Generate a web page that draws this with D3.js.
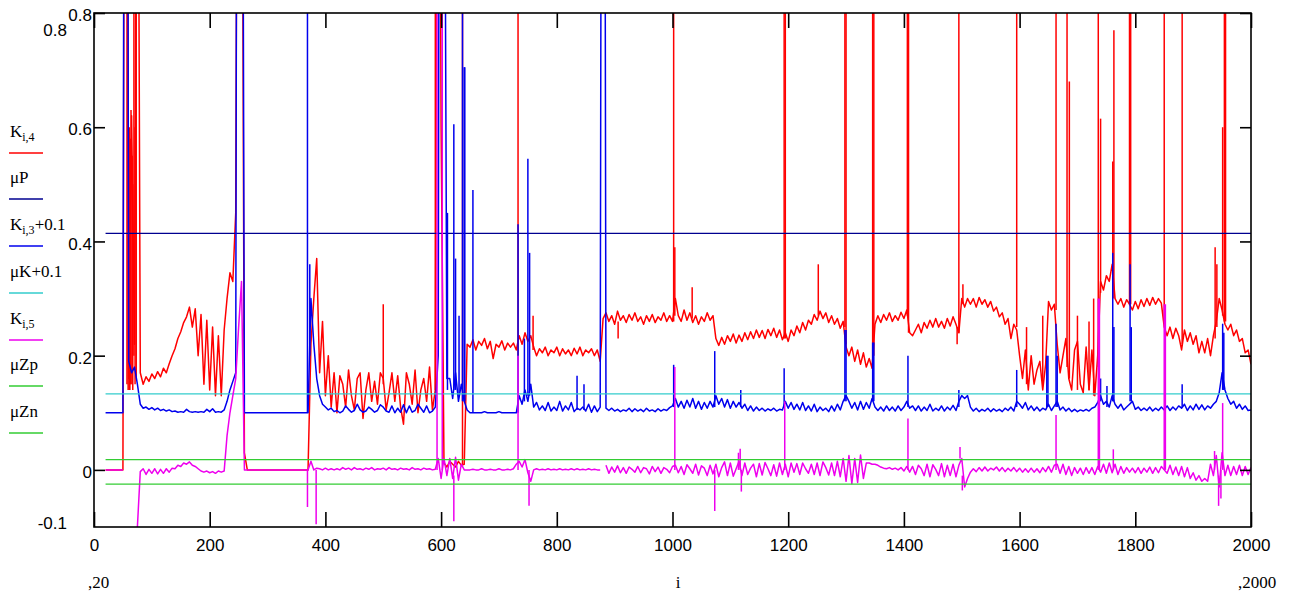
<!DOCTYPE html>
<html>
<head>
<meta charset="utf-8">
<script src="https://cdn.jsdelivr.net/npm/d3@7"></script>
<style>
  body { margin: 0; background: #fff; }
  svg { display: block; }
</style>
</head>
<body>
<svg id="chart" width="1296" height="595"></svg>
<script>
// Samples are stored every iStep indices, starting at i = iStart.
const iStart = 20, iStep = 5, iEnd = 2000;

// K[i,4]
const kI4 = [
  0, 0, 0, 0, 0, 0, 0, 2.5, 0.16, 0.62, 0.22, 1.6, 0.17, 0.15, 0.163, 0.155, 0.168, 0.16, 0.172, 0.163,
  0.178, 0.17, 0.186, 0.2, 0.212, 0.23, 0.242, 0.258, 0.268, 0.285, 0.25, 0.282, 0.2, 0.272, 0.15, 0.262, 0.14, 0.25, 0.13, 0.235,
  0.13, 0.245, 0.3, 0.345, 0.33, 0.45, 2.0, 1.5, 0.03, 0, 0, 0, 0, 0, 0, 0, 0, 0, 0, 0,
  0, 0, 0, 0, 0, 0, 0, 0, 0, 0, 0, 0.22, 0.3, 0.37, 0.17, 0.26, 0.13, 0.2, 0.11, 0.17,
  0.1, 0.165, 0.15, 0.11, 0.175, 0.13, 0.105, 0.16, 0.17, 0.09, 0.14, 0.17, 0.12, 0.155, 0.115, 0.17, 0.16, 0.105, 0.135, 0.17,
  0.12, 0.165, 0.11, 0.08, 0.17, 0.15, 0.115, 0.175, 0.1, 0.14, 0.16, 0.12, 0.18, 0.105, 0.14, 2.0, 0.6, 0.012, 0.005, 0.015,
  0.01, 0.005, 0.015, 0.008, 0.01, 0.22, 0.215, 0.228, 0.21, 0.225, 0.218, 0.23, 0.212, 0.225, 0.195, 0.22, 0.215, 0.226, 0.21, 0.222,
  0.215, 0.222, 0.21, 0.235, 0.22, 0.24, 0.225, 0.235, 0.215, 0.2, 0.212, 0.205, 0.215, 0.2, 0.21, 0.205, 0.215, 0.2, 0.212, 0.203,
  0.21, 0.2, 0.213, 0.203, 0.215, 0.2, 0.21, 0.205, 0.212, 0.2, 0.21, 0.19, 0.265, 0.275, 0.26, 0.27, 0.255, 0.278, 0.262, 0.27,
  0.258, 0.272, 0.262, 0.275, 0.26, 0.268, 0.255, 0.27, 0.26, 0.272, 0.258, 0.268, 0.262, 0.275, 0.26, 0.27, 0.26, 0.3, 0.27, 0.26,
  0.28, 0.262, 0.275, 0.258, 0.27, 0.255, 0.268, 0.26, 0.275, 0.262, 0.27, 0.23, 0.218, 0.232, 0.22, 0.235, 0.225, 0.238, 0.222, 0.236,
  0.225, 0.24, 0.228, 0.242, 0.23, 0.245, 0.232, 0.244, 0.23, 0.246, 0.235, 0.248, 0.232, 0.245, 0.228, 0.24, 0.225, 0.245, 0.235, 0.252,
  0.24, 0.258, 0.245, 0.262, 0.255, 0.272, 0.262, 0.278, 0.265, 0.275, 0.258, 0.27, 0.255, 0.265, 0.248, 0.26, 0.215, 0.2, 0.215, 0.19,
  0.21, 0.185, 0.205, 0.18, 0.195, 0.178, 0.255, 0.27, 0.258, 0.272, 0.262, 0.275, 0.26, 0.27, 0.262, 0.276, 0.265, 0.28, 0.24, 0.235,
  0.245, 0.255, 0.24, 0.258, 0.248, 0.262, 0.25, 0.265, 0.25, 0.26, 0.248, 0.265, 0.252, 0.268, 0.255, 0.24, 0.3, 0.285, 0.3, 0.29,
  0.3, 0.285, 0.302, 0.29, 0.298, 0.285, 0.295, 0.278, 0.285, 0.268, 0.275, 0.255, 0.265, 0.23, 0.255, 0.245, 0.2, 0.16, 0.21, 0.14,
  0.2, 0.15, 0.175, 0.19, 0.14, 0.185, 0.295, 0.28, 0.29, 0.22, 0.17, 0.2, 0.23, 0.16, 0.14, 0.21, 0.225, 0.15, 0.135, 0.215,
  0.14, 0.21, 0.13, 0.2, 0.33, 0.315, 0.34, 0.33, 0.36, 0.3, 0.29, 0.3, 0.285, 0.298, 0.29, 0.28, 0.295, 0.282, 0.298, 0.286,
  0.3, 0.288, 0.302, 0.29, 0.3, 0.292, 0.25, 0.235, 0.25, 0.23, 0.248, 0.235, 0.21, 0.245, 0.225, 0.24, 0.22, 0.235, 0.205, 0.225,
  0.205, 0.23, 0.2, 0.235, 0.26, 0.3, 0.28, 0.255, 0.245, 0.255, 0.235, 0.245, 0.225, 0.23, 0.205, 0.21, 0.185
];
// single-sample excursions of K[i,4]: [i, from, to]
const kI4Spikes = [
  [57, 0.15, 3], [59, 0.14, 0.7], [61, 0.14, 0.6], [62, 0.14, 0.55], [63, 0.15, 0.58], [64, 0.15, 0.63],
  [66, 0.15, 0.55], [67, 0.14, 0.5], [69, 0.2, 3], [71, 0.15, 0.6], [73, 0.16, 3],
  [500, 0.15, 0.29], [590, 0.14, 3], [637, 0.01, 3], [733, 0.2, 3], [759, 0.21, 0.27], [906, 0.26, 0.23],
  [1002, 0.26, 3], [1004, 0.27, 0.39], [1034, 0.265, 0.32], [1193, 0.23, 3], [1195, 0.23, 3],
  [1252, 0.27, 0.36], [1298, 0.25, 3], [1300, 0.22, 3], [1346, 0.18, 3], [1348, 0.2, 3],
  [1406, 0.27, 3], [1408, 0.24, 3], [1492, 0.25, 0.22], [1495, 0.24, 3], [1502, 0.29, 0.325],
  [1595, 0.25, 3], [1612, 0.15, 0.25], [1640, 0.15, 0.27], [1663, 0.28, 3], [1682, 0.18, 3], [1686, 0.16, 0.68],
  [1700, 0.14, 0.27], [1720, 0.14, 0.26], [1728, 0.13, 0.3],
  [1736, 0.18, 3], [1740, 0.31, 0.615], [1761, 0.33, 0.54], [1763, 0.3, 0.77], [1790, 0.29, 3], [1792, 0.29, 3],
  [1850, 0.26, 3], [1881, 0.22, 3], [1938, 0.23, 0.39], [1941, 0.25, 0.36], [1951, 0.27, 0.6], [1954, 0.26, 3], [1956, 0.26, 3]
];

// K[i,3] (plotted as K[i,3] + 0.1)
const kI3 = [
  0, 0, 0, 0, 0, 0, 0, 2.9, 0.09, 0.07, 0.08, 0.05, 0.015, 0.008, 0.01, 0.006, 0.009, 0.005, 0.008, 0.004,
  0.006, 0.003, 0.005, 0.002, 0.003, 0.001, 0.002, 0.001, 0.006, 0.002, 0.001, 0.002, 0.001, 0.002, 0.001, 0.006, 0.002, 0.007, 0.001, 0.002,
  0.001, 0.005, 0.02, 0.04, 0.055, 0.07, 2.9, 1.9, 0, 0, 0, 0, 0, 0, 0, 0, 0, 0, 0, 0,
  0, 0, 0, 0, 0, 0, 0, 0, 0, 0, 0, 0.2, 0.12, 0.06, 0.03, 0.015, 0.01, 0.005, 0.008, 0.002,
  0.004, 0, 0.003, 0.012, 0.006, 0.001, 0.004, 0.015, 0.005, 0.001, 0.003, 0.01, 0.006, 0.001, 0.004, 0.014, 0.01, 0.003, 0.001, 0.012,
  0, 0.008, 0.001, 0.014, 0, 0.012, 0.001, 0.004, 0.015, 0.008, 0.001, 0.012, 0, 0.003, 0.01, 0.1, 2.9, 1.4, 0.06, 0.06,
  0.025, 0.07, 0.02, 0.05, 0.02, 0.005, 0, 0, 0, 0, 0, 0.002, 0, 0, 0, 0, 0.002, 0, 0, 0,
  0, 0, 0, 0.03, 0.015, 0.04, 0.02, 0.05, 0.01, 0.018, 0.005, 0.012, 0.004, 0.018, 0.003, 0.01, 0.004, 0.02, 0.003, 0.012,
  0.005, 0.018, 0.002, 0.008, 0.005, 0.01, 0.003, 0.015, 0.001, 0.012, 0.002, 0.01, 2.9, 0.008, 0.004, 0.008, 0.003, 0.006, 0.002, 0.005,
  0.003, 0.008, 0.002, 0.007, 0.003, 0.006, 0.002, 0.008, 0.003, 0.005, 0.002, 0.007, 0.003, 0.006, 0.004, 0.009, 0.012, 0.025, 0.01, 0.02,
  0.008, 0.022, 0.01, 0.025, 0.008, 0.02, 0.006, 0.018, 0.008, 0.02, 0.01, 0.03, 0.015, 0.025, 0.01, 0.023, 0.008, 0.02, 0.01, 0.018,
  0.008, 0.015, 0.004, 0.012, 0.003, 0.01, 0.004, 0.008, 0.003, 0.007, 0.004, 0.008, 0.003, 0.006, 0.005, 0.02, 0.008, 0.018, 0.006, 0.015,
  0.005, 0.018, 0.004, 0.012, 0.003, 0.015, 0.002, 0.01, 0.004, 0.008, 0.002, 0.012, 0.003, 0.015, 0.005, 0.02, 0.03, 0.02, 0.008, 0.018,
  0.005, 0.02, 0.006, 0.018, 0.008, 0.025, 0.01, 0.004, 0.01, 0.003, 0.012, 0.004, 0.01, 0.003, 0.012, 0.004, 0.01, 0.02, 0.008, 0.012,
  0.004, 0.012, 0.003, 0.01, 0.004, 0.015, 0.003, 0.008, 0.004, 0.012, 0.003, 0.01, 0.005, 0.013, 0.004, 0.02, 0.03, 0.025, 0.03, 0.01,
  0.003, 0.008, 0.002, 0.006, 0.003, 0.008, 0.002, 0.007, 0.003, 0.006, 0.002, 0.008, 0.004, 0.01, 0.003, 0.02, 0.015, 0.008, 0.018, 0.005,
  0.012, 0.004, 0.01, 0.003, 0.008, 0.005, 0.015, 0.004, 0.012, 0.02, 0.005, 0.01, 0.003, 0.008, 0.002, 0.006, 0.002, 0.005, 0.003, 0.006,
  0.003, 0.008, 0.01, 0.018, 0.03, 0.015, 0.02, 0.01, 0.03, 0.015, 0.008, 0.015, 0.005, 0.01, 0.015, 0.02, 0.006, 0.01, 0.004, 0.008,
  0.004, 0.01, 0.003, 0.008, 0.004, 0.01, 0.005, 0.012, 0.004, 0.01, 0.005, 0.012, 0.008, 0.015, 0.004, 0.012, 0.005, 0.015, 0.006, 0.014,
  0.005, 0.012, 0.008, 0.015, 0.02, 0.035, 0.07, 0.04, 0.025, 0.015, 0.02, 0.008, 0.015, 0.006, 0.012, 0.004, 0.005
];
const kI3Spikes = [
  [369, 0, 2.9], [373, 0.1, 0.26],
  [611, 0.04, 0.35], [622, 0.04, 0.505], [625, 0.04, 0.27], [631, 0.03, 0.17], [637, 0.02, 2.9],
  [640, 0.02, 0.605], [641, 0.02, 0.605], [655, 0, 0.39],
  [733, 0, 0.33], [744, 0.02, 0.13], [750, 0.03, 0.445], [753, 0.03, 0.28], [835, 0.005, 0.065], [847, 0.005, 0.05],
  [1002, 0.01, 0.084], [1073, 0.01, 0.108], [1118, 0.01, 0.04], [1193, 0.01, 0.078],
  [1298, 0.02, 0.145], [1300, 0.02, 0.145], [1346, 0.02, 0.123], [1348, 0.02, 0.123], [1407, 0.01, 0.1],
  [1495, 0.01, 0.04], [1595, 0.01, 0.075], [1647, 0.01, 0.1], [1649, 0.01, 0.1], [1663, 0.01, 0.156], [1665, 0.01, 0.1],
  [1740, 0.02, 0.06], [1751, 0.01, 0.047], [1761, 0.02, 0.28], [1763, 0.02, 0.15], [1791, 0.02, 0.26], [1793, 0.02, 0.15],
  [1881, 0.01, 0.05], [1951, 0.04, 0.156], [1953, 0.04, 0.14]
];
const kI3Offset = 0.1;

// K[i,5]; null marks samples that fall outside the plotted range
const kI5 = [
  0, 0, 0, 0, 0, 0, 0, null, null, null, null, -0.1, -0.003, 0.002, -0.008, 0.001, -0.006, 0.002, -0.007, 0.001,
  -0.006, 0.002, -0.004, 0.003, 0.002, 0.008, 0.006, 0.012, 0.01, 0.014, 0.008, 0.006, 0.002, -0.002, -0.004, -0.002, -0.005, -0.003, -0.006, -0.002,
  -0.004, -0.002, 0.06, 0.1, 0.13, 0.16, 0.25, 0.33, 0, 0, 0, 0, 0, 0, 0, 0, 0, 0, 0, 0,
  0, 0, 0, 0, 0, 0, 0, 0, 0, 0, 0, 0.015, 0, 0.003, 0.002, 0, 0.003, 0, 0.002, 0,
  0.002, 0, 0.004, 0.001, 0.003, 0, 0.004, 0.001, 0.002, 0, 0.003, 0.001, 0.004, 0, 0.002, 0.001, 0.003, 0, 0.004, 0.001,
  0.002, 0, 0.003, 0.001, 0.002, 0, 0.004, 0.001, 0.002, 0, 0.003, 0.001, 0.002, 0, 0.001, 0.02, -0.015, 0.02, -0.01, 0.02,
  -0.015, 0.022, -0.018, 0.01, 0, 0, 0, 0.001, 0, 0, 0.002, 0, 0, 0.001, 0, 0, 0.002, 0, 0, 0.001,
  0, 0.002, 0.01, 0.015, 0.005, 0.018, -0.005, -0.02, 0, 0.002, 0, 0.001, 0, 0.002, 0, 0.001, 0, 0.002, 0, 0.001,
  0, 0.002, 0, 0.002, 0, 0.001, 0, 0.002, 0, 0.001, 0, 0, null, 0.008, -0.006, 0.005, -0.004, 0.007, -0.005, 0.004,
  -0.006, 0.005, 0.001, -0.004, 0.006, -0.005, 0.004, 0.002, -0.007, 0.006, -0.003, 0.005, -0.006, 0.004, 0.001, -0.005, 0.006, 0.008, -0.005, 0.006,
  -0.008, 0.009, 0.002, -0.006, 0.01, -0.009, 0.007, 0.003, -0.01, 0.008, -0.007, 0.01, -0.012, 0.004, 0.014, -0.01, 0.012, -0.011, 0.002, 0.015,
  -0.01, 0.012, -0.008, 0.003, 0.01, -0.012, 0.011, -0.009, 0.013, 0.002, -0.01, 0.009, -0.011, 0.012, -0.008, 0.01, -0.012, 0.012, -0.004, 0.011,
  -0.008, 0.012, 0.002, -0.006, 0.01, -0.008, 0.012, -0.01, 0.014, 0.004, -0.009, 0.012, -0.01, 0.015, -0.012, 0.02, -0.02, 0.025, -0.024, 0.02,
  -0.022, 0.026, -0.015, 0.012, 0.012, 0.01, 0.01, 0.008, 0.005, 0.003, 0.002, 0.004, 0.001, 0.003, 0, 0.004, -0.002, 0.006, -0.004, 0.006,
  -0.008, 0.008, 0.002, -0.01, 0.01, -0.012, 0.009, 0.001, -0.01, 0.011, -0.012, 0.008, -0.01, 0.01, -0.012, 0.008, 0.02, -0.03, -0.015, -0.004,
  0.002, -0.003, 0.004, -0.002, 0.005, -0.002, 0.003, 0, 0.005, -0.002, 0.004, -0.003, 0.003, -0.002, 0.004, -0.003, 0.003, -0.004, 0.002, -0.004,
  0.003, -0.004, 0.002, -0.005, 0.004, -0.003, 0.006, -0.004, 0.008, 0.01, -0.006, 0.01, -0.008, 0.006, -0.01, 0.004, -0.006, 0.003, -0.008, 0.004,
  -0.006, 0.004, -0.008, 0.006, -0.004, 0.01, -0.006, 0.012, -0.005, 0.01, -0.008, 0.006, -0.006, 0.004, -0.004, 0.003, -0.005, 0.004, -0.006, 0.003,
  -0.004, 0.005, -0.006, 0.004, -0.005, 0.006, 0, -0.006, 0.008, -0.008, 0.005, -0.01, 0.006, -0.012, 0.004, -0.015, -0.005, -0.018, -0.01, -0.02,
  -0.015, -0.02, 0.01, -0.01, 0.025, -0.03, 0.03, -0.01, 0.008, -0.01, 0.006, -0.008, 0.008, -0.01, 0.006, -0.008, 0.004
];
const kI5Spikes = [
  [369, 0, -0.065], [384, 0, -0.095], [593, 0, 3], [602, 0, 3], [622, -0.01, -0.09], [733, 0, 0.2], [752, 0, -0.063],
  [1004, 0, 0.18], [1073, 0, -0.072], [1114, 0, 0.03], [1117, 0, 0.037], [1119, 0, -0.038], [1194, 0, 0.12],
  [1407, 0, 0.09], [1497, 0.02, 0.04], [1501, -0.01, -0.036], [1663, 0, 0.096], [1736, 0, 0.3], [1738, 0, 0.3],
  [1762, 0, 0.036], [1850, 0, 0.29], [1852, 0, 0.29], [1937, 0, 0.033], [1944, -0.01, -0.063], [1948, 0, -0.05], [1951, 0, 0.117]
];

// constant levels
const muP = 0.414;
const muK = 0.033, muKOffset = 0.1;
const muZp = 0.018;
const muZn = -0.025;

// axes
const xLimits = [0, 2000];
const yLimits = [-0.1, 0.8];
const xTicks = [0, 200, 400, 600, 800, 1000, 1200, 1400, 1600, 1800, 2000];
const yTicks = [0, 0.2, 0.4, 0.6, 0.8];

const svg = d3.select("#chart");
const plotL = 94, plotR = 1251, plotT = 13, plotB = 527;
const x = d3.scaleLinear().domain(xLimits).range([plotL, plotR]);
const y = d3.scaleLinear().domain(yLimits).range([plotB, plotT]);

const COLORS = {
  k4: "#ff0000", muP: "#000090", k3: "#0000ee", muK: "#33cccc",
  k5: "#ee00ee", muZp: "#33cc33", muZn: "#33cc33"
};
const TRACE_W = 1.5;

svg.append("defs").append("clipPath").attr("id", "plotClip")
  .append("rect").attr("x", plotL).attr("y", plotT)
  .attr("width", plotR - plotL).attr("height", plotB - plotT);

const plot = svg.append("g").attr("clip-path", "url(#plotClip)");

const toPoints = (arr, offset) =>
  arr.map((v, k) => [iStart + k * iStep, v === null ? null : v + offset]);

const line = d3.line()
  .defined(d => d[1] !== null)
  .x(d => x(d[0]))
  .y(d => y(d[1]));

function drawSeries(arr, spikes, offset, color) {
  plot.append("path")
    .datum(toPoints(arr, offset))
    .attr("fill", "none")
    .attr("stroke", color)
    .attr("stroke-width", TRACE_W)
    .attr("stroke-linejoin", "round")
    .attr("d", line);
  plot.append("g").selectAll("line")
    .data(spikes)
    .join("line")
    .attr("x1", d => x(d[0])).attr("x2", d => x(d[0]))
    .attr("y1", d => y(d[1] + offset)).attr("y2", d => y(d[2] + offset))
    .attr("stroke", color)
    .attr("stroke-width", TRACE_W);
}

function drawLevel(v, color) {
  plot.append("path")
    .datum([[iStart, v], [iEnd, v]])
    .attr("fill", "none")
    .attr("stroke", color)
    .attr("stroke-width", 1.3)
    .attr("d", line);
}

// traces in legend order, later ones on top
drawSeries(kI4, kI4Spikes, 0, COLORS.k4);
drawLevel(muP, COLORS.muP);
drawSeries(kI3, kI3Spikes, kI3Offset, COLORS.k3);
drawLevel(muK + muKOffset, COLORS.muK);
drawSeries(kI5, kI5Spikes, 0, COLORS.k5);
drawLevel(muZp, COLORS.muZp);
drawLevel(muZn, COLORS.muZn);

// frame
svg.append("rect")
  .attr("x", plotL).attr("y", plotT)
  .attr("width", plotR - plotL).attr("height", plotB - plotT)
  .attr("fill", "none").attr("stroke", "#000").attr("stroke-width", 1.6);

const tickFont = "'Liberation Sans', Arial, sans-serif";
const styleAxis = g => {
  g.select(".domain").remove();
  g.selectAll(".tick line").attr("stroke", "#000").attr("stroke-width", 1.6);
  g.selectAll(".tick text")
    .attr("fill", "#000")
    .style("font-family", tickFont)
    .style("font-size", "17px");
};

svg.append("g").attr("transform", `translate(0,${plotB})`)
  .call(d3.axisBottom(x).tickValues(xTicks).tickSize(-15).tickSizeOuter(0)
    .tickPadding(12).tickFormat(d3.format("d")))
  .call(styleAxis);

svg.append("g").attr("transform", `translate(0,${plotT})`)
  .call(d3.axisTop(x).tickValues(xTicks).tickSize(-15).tickSizeOuter(0).tickFormat(""))
  .call(styleAxis);

svg.append("g").attr("transform", `translate(${plotL},0)`)
  .call(d3.axisLeft(y).tickValues(yTicks).tickSize(-11).tickSizeOuter(0)
    .tickPadding(2).tickFormat(d => d === 0 ? "0" : d3.format(".1f")(d)))
  .call(styleAxis)
  .call(g => g.selectAll(".tick text").attr("dy", "0.45em"));

svg.append("g").attr("transform", `translate(${plotR},0)`)
  .call(d3.axisRight(y).tickValues(yTicks).tickSize(-11).tickSizeOuter(0).tickFormat(""))
  .call(styleAxis);

// axis limit labels
const limitY = svg.append("g")
  .style("font-family", tickFont).style("font-size", "17px")
  .attr("text-anchor", "end").attr("fill", "#000");
limitY.append("text").attr("x", 67).attr("y", 36).text(d3.format(".1f")(yLimits[1]));
limitY.append("text").attr("x", 67).attr("y", 529).text("-0.1");

const serif = "'Liberation Serif', 'Times New Roman', serif";
const bottomText = svg.append("g")
  .style("font-family", serif).style("font-size", "17px").attr("fill", "#000");
bottomText.append("text").attr("x", 88).attr("y", 588).text("," + iStart);
bottomText.append("text").attr("x", 678).attr("y", 588).attr("text-anchor", "middle").text("i");
bottomText.append("text").attr("x", 1238).attr("y", 588).text("," + iEnd);

// legend: label above a short sample of each trace
const legend = [
  { base: "K", sub: "i,4", tail: "", color: COLORS.k4 },
  { base: "\u03bcP", sub: "", tail: "", color: COLORS.muP },
  { base: "K", sub: "i,3", tail: "+0.1", color: COLORS.k3 },
  { base: "\u03bcK+0.1", sub: "", tail: "", color: COLORS.muK },
  { base: "K", sub: "i,5", tail: "", color: COLORS.k5 },
  { base: "\u03bcZp", sub: "", tail: "", color: COLORS.muZp },
  { base: "\u03bcZn", sub: "", tail: "", color: COLORS.muZn }
];
const legendLineY = [153, 199, 246, 293, 340, 386, 433];
const lg = svg.append("g").style("font-family", serif).attr("fill", "#000");
legend.forEach((d, k) => {
  const ly = legendLineY[k];
  const t = lg.append("text").attr("x", 10).attr("y", ly - 16).style("font-size", "17px");
  t.append("tspan").text(d.base);
  if (d.sub) t.append("tspan").attr("dy", 4).style("font-size", "12px").text(d.sub);
  if (d.tail) t.append("tspan").attr("dy", -4).text(d.tail);
  lg.append("line").attr("x1", 9).attr("x2", 43).attr("y1", ly).attr("y2", ly)
    .attr("stroke", d.color).attr("stroke-width", 1.4);
});
</script>
</body>
</html>
